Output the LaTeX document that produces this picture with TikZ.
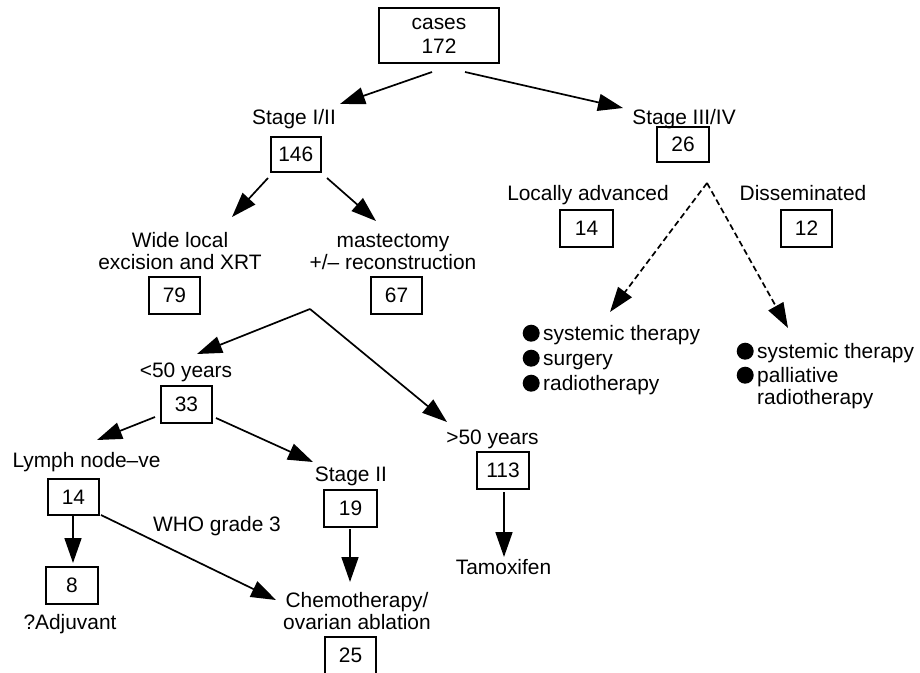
\documentclass[tikz,border=0pt]{standalone}
\usepackage{fontspec}
\setmainfont{Liberation Sans}
\usetikzlibrary{arrows.meta}
\newcommand\lblsize{\fontsize{20.9}{22}\selectfont}
\newcommand\blt{\raisebox{-1.5pt}{\tikz\fill (0pt,0pt) circle (8.5pt);}\hspace{3.5pt}}
\begin{document}
\begin{tikzpicture}[x=1pt,y=-1pt, font=\lblsize,
  box/.style={draw, line width=1.6pt, minimum width=51pt, minimum height=37pt, inner sep=0pt},
  lbl/.style={inner sep=0pt, anchor=base},
  multi/.style={inner sep=0pt, anchor=north, align=center},
  blist/.style={inner sep=0pt, anchor=north west, align=left},
  arr/.style={-{Triangle[length=25pt,width=17pt]}, line width=1.7pt},
  darr/.style={arr, dash pattern=on 6pt off 3.5pt}]
\useasboundingbox (0,0) rectangle (920,672);

% boxes
\node[box, minimum width=120pt, minimum height=55pt, align=center] (cases) at (439,35.5) {cases\\[2pt]172};
\node[box, minimum width=50pt, minimum height=35pt] (b146) at (295.7,154.5) {146};
\node[box, minimum width=52pt, minimum height=35pt] (b26) at (683,144.5) {26};
\node[box, minimum width=53pt] (b14r) at (586.5,228.5) {14};
\node[box] (b12) at (806.5,228.5) {12};
\node[box] (b79) at (174.5,295.5) {79};
\node[box] (b67) at (396.5,295.5) {67};
\node[box] (b33) at (186.5,404.5) {33};
\node[box, minimum height=36pt] (b14) at (73.5,497) {14};
\node[box, minimum width=53pt] (b19) at (350.5,508.5) {19};
\node[box, minimum width=52pt] (b8) at (72,585.5) {8};
\node[box, minimum width=52pt] (b113) at (503,470.5) {113};
\node[box] (b25) at (350.5,655.5) {25};

% labels
\node[lbl] (stI) at (294,124) {Stage I/II};
\node[lbl] (stIII) at (684,124) {Stage III/IV};
\node[lbl] (loc) at (588,200) {Locally advanced};
\node[lbl] (dis) at (803,200) {Disseminated};
\node[multi] (wle) at (180,231.6) {\strut Wide local\\excision and XRT};
\node[multi] (mast) at (393,231.6) {\strut mastectomy\\+/– reconstruction};
\node[lbl] (lt50) at (186,377) {<50 years};
\node[lbl] (gt50) at (492.5,444) {>50 years};
\node[lbl] (lymph) at (86.5,467) {Lymph node–ve};
\node[lbl] (stII) at (351,481) {Stage II};
\node[lbl] (who) at (217,531.5) {WHO grade 3};
\node[lbl] (adj) at (70,629) {?Adjuvant};
\node[lbl] (tam) at (503.5,574) {Tamoxifen};
\node[multi] (chemo) at (357,591.6) {\strut Chemotherapy/\\ovarian ablation};

% bullet lists
\node[blist] (list1) at (522.5,324.5) {\blt systemic therapy\\[3pt]\blt surgery\\[3pt]\blt radiotherapy};
\node[blist] (list2) at (736.5,342.5) {\blt systemic therapy\\[2pt]\blt palliative\\\hspace*{20.5pt}radiotherapy};

% connector ends
\coordinate (casesL) at (432,72);
\coordinate (casesR) at (465,72);
\coordinate (stIin) at (340,104);
\coordinate (stIIIin) at (623,108);
\coordinate (b146L) at (268,178);
\coordinate (b146R) at (327,178);
\coordinate (wleIn) at (232,217);
\coordinate (mastIn) at (376,221);
\coordinate (split) at (310,309);
\coordinate (lt50In) at (197,354);
\coordinate (gt50In) at (447,422);
\coordinate (b33L) at (155,417);
\coordinate (b33R) at (216,418);
\coordinate (lymphIn) at (97,440);
\coordinate (stIIin) at (313,462);
\coordinate (b14S) at (73,516);
\coordinate (b8In) at (73,563);
\coordinate (b14C) at (101,515);
\coordinate (chemoInL) at (276,600);
\coordinate (b19S) at (350,529);
\coordinate (chemoInT) at (350,582);
\coordinate (b113S) at (504,492);
\coordinate (tamIn) at (504,557);
\coordinate (apex) at (707,183);
\coordinate (list1In) at (610,312);
\coordinate (list2In) at (788,328);

% connectors
\draw[arr] (casesL) -- (stIin);
\draw[arr] (casesR) -- (stIIIin);
\draw[arr] (b146L) -- (wleIn);
\draw[arr] (b146R) -- (mastIn);
\draw[arr] (split) -- (lt50In);
\draw[arr] (split) -- (gt50In);
\draw[arr] (b33L) -- (lymphIn);
\draw[arr] (b33R) -- (stIIin);
\draw[arr] (b14S) -- (b8In);
\draw[arr] (b14C) -- (chemoInL);
\draw[arr] (b19S) -- (chemoInT);
\draw[arr] (b113S) -- (tamIn);
\draw[darr] (apex) -- (list1In);
\draw[darr] (apex) -- (list2In);
\end{tikzpicture}
\end{document}
